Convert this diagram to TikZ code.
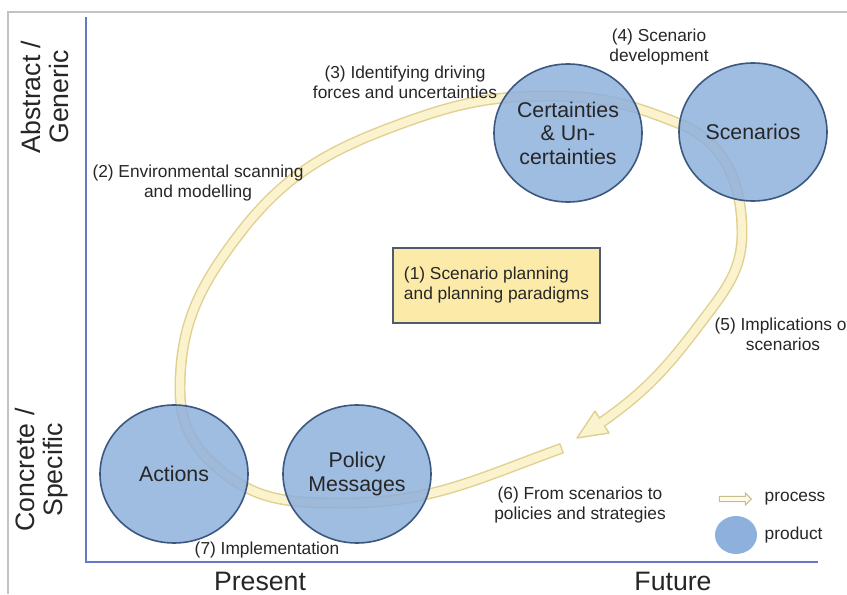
\documentclass[tikz,border=0pt]{standalone}
\usepackage{fontspec}
\setmainfont{Liberation Sans}
\usetikzlibrary{shapes.geometric,shapes.arrows,calc,positioning}

\definecolor{bandline}{RGB}{224,209,146}
\definecolor{bandfill}{RGB}{250,243,205}
\definecolor{prodfill}{RGB}{142,176,220}
\definecolor{prodline}{RGB}{60,88,128}
\definecolor{boxfill}{RGB}{252,234,168}
\definecolor{boxline}{RGB}{80,90,112}
\definecolor{axisblue}{RGB}{100,122,200}
\definecolor{framegray}{RGB}{196,196,190}
\definecolor{inkgray}{RGB}{38,38,38}

\tikzset{
  product/.style={ellipse, draw=prodline, line width=1.2pt, fill=prodfill,
    fill opacity=0.85, text opacity=1, minimum width=111pt, minimum height=103.5pt,
    inner sep=0pt, align=center, text=inkgray, font=\fontsize{16}{17.6}\selectfont},
  steplabel/.style={align=center, text=inkgray, font=\fontsize{13}{15}\selectfont},
  axislabel/.style={align=center, text=inkgray, font=\fontsize{20}{21}\selectfont},
  planbox/.style={draw=boxline, line width=1.5pt, fill=boxfill, align=left,
    minimum width=155.25pt, minimum height=56.25pt, text=inkgray,
    font=\fontsize{13}{15}\selectfont},
  process/.style={draw=bandline, line width=1.1pt, double=bandfill,
    double distance=6pt, line cap=rect},
  axisline/.style={draw=axisblue, line width=1.5pt}
}

\begin{document}
\begin{tikzpicture}[x=0.75pt,y=0.75pt]
\useasboundingbox (0,0) rectangle (847,594);
\draw[framegray, line width=0.8pt] (8,0) -- (8,582) -- (847,582);

\coordinate (ytop) at (86,577);
\coordinate (origin) at (86,32);
\coordinate (xend) at (818,32);
\draw[axisline] (ytop) -- (origin) -- (xend);

\coordinate (bandstart) at (557,144);
\coordinate (bandbottom) at (345,91);
\coordinate (bandsw) at (220,124);
\coordinate (bandwest) at (180,205);
\coordinate (bandnw) at (237,357);
\coordinate (bandnnw) at (403,471);
\coordinate (bandtop) at (550,498);
\coordinate (bandne) at (680,470);
\coordinate (bandeast) at (742,361);
\coordinate (bandse) at (703,274);
\coordinate (hb) at (602,172);
\coordinate (tip) at (577,156);
\draw[process] (bandstart) to[out=200, in=0] (bandbottom)
  to[out=180, in=-40] (bandsw) to[out=140, in=-90] (bandwest)
  to[out=90, in=233] (bandnw) to[out=53, in=200] (bandnnw)
  to[out=20, in=180] (bandtop) to[out=0, in=158] (bandne)
  to[out=-22, in=90] (bandeast) to[out=-90, in=53] (bandse)
  to[out=233, in=35] (hb);
\coordinate (hl) at ($(hb)!0.14!90:(tip)$);
\coordinate (hr) at ($(hb)!0.14!-90:(tip)$);
\coordinate (bl) at ($(hb)!0.44!90:(tip)$);
\coordinate (br) at ($(hb)!0.44!-90:(tip)$);
\fill[bandfill] (hl) -- (bl) -- (tip) -- (br) -- (hr) -- cycle;
\draw[bandline, line width=1.1pt, line join=round] (hl) -- (bl) -- (tip) -- (br) -- (hr);

\node[product] (cert) at (568,461) {Certainties\\\& Un-\\certainties};
\node[product] (scen) at (753,462) {Scenarios};
\node[product] (actions) at (174,120) {Actions};
\node[product] (policy) at (357,120) {Policy\\Messages};

\node[planbox] (plan) at (496.5,308.5) {(1) Scenario planning\\and planning paradigms};

\node[steplabel] (scan) at (198,411) {(2) Environmental scanning\\and modelling};
\node[steplabel] (drive) at (405,512) {(3) Identifying driving\\forces and uncertainties};
\node[steplabel] (develop) at (659,547) {(4) Scenario\\development};
\node[steplabel] (implic) at (783,260) {(5) Implications of\\scenarios};
\node[steplabel] (topolicy) at (580,89) {(6) From scenarios to\\policies and strategies};
\node[steplabel] (implement) at (267,44) {(7) Implementation};

\node[single arrow, draw=bandline!75!gray, fill=bandfill!40!white, line width=0.8pt,
  minimum height=24pt, inner sep=1.6pt, single arrow head extend=2.5pt] (prockey) at (734,95) {};
\node[steplabel, anchor=west] (proctext) at (760,95) {process};
\node[ellipse, fill=prodfill, minimum width=31.5pt, minimum height=28.5pt,
  inner sep=0pt] (prodkey) at (736,59) {};
\node[steplabel, anchor=west] (prodtext) at (760,59) {product};

\node[axislabel, rotate=90] (abstract) at (45,497) {Abstract /\\Generic};
\node[axislabel, rotate=90] (concrete) at (42,124) {Concrete /\\Specific};
\node[axislabel] (present) at (260,13) {Present};
\node[axislabel] (future) at (673,13) {Future};
\end{tikzpicture}
\end{document}
